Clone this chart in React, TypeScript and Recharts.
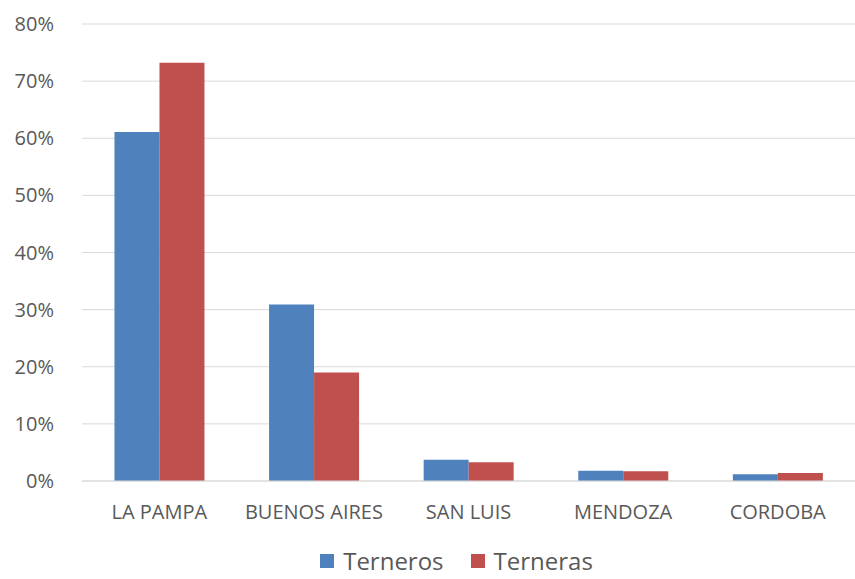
import React from "react";
import { BarChart, Bar, XAxis, YAxis, CartesianGrid } from "recharts";

const provinces = ["LA PAMPA", "BUENOS AIRES", "SAN LUIS", "MENDOZA", "CORDOBA"];
const terneros = [61.1, 30.9, 3.7, 1.8, 1.2];
const terneras = [73.2, 19.0, 3.3, 1.7, 1.4];
const yTicks = [0, 10, 20, 30, 40, 50, 60, 70, 80];
const seriesNames = ["Terneros", "Terneras"];
const seriesColors = ["#4f81bd", "#c0504d"];

const data = provinces.map((name, i) => ({ name, terneros: terneros[i], terneras: terneras[i] }));

const FONT = "'Open Sans', sans-serif";
const TEXT = "#595959";

// legend drawn as plain html under the chart, keeps the plot box fixed
function LegendBox() {
  return (
    <div style={{ position: "absolute", left: 58, top: 549, width: 797, display: "flex", justifyContent: "center", alignItems: "center", gap: 27, fontFamily: FONT }}>
      {seriesNames.map((n, i) => (
        <span key={n} style={{ display: "flex", alignItems: "center", color: TEXT, fontSize: 24, lineHeight: "24px" }}>
          <span style={{ width: 14, height: 14, background: seriesColors[i], marginRight: 9, display: "inline-block" }} />
          {n}
        </span>
      ))}
    </div>
  );
}

export default function App() {
  return (
    <div style={{ position: "absolute", left: 0, top: 0, width: 855, height: 579, background: "#fff", fontFamily: FONT }}>
      <BarChart width={855} height={579} data={data}
        margin={{ top: 24, right: 0, bottom: 48, left: 0 }}
        barCategoryGap="21%" barGap={0}>
        <CartesianGrid stroke="#d9d9d9" vertical={false} />
        <XAxis dataKey="name" tickLine={false} axisLine={{ stroke: "#d9d9d9" }} height={50}
          tick={{ fill: TEXT, fontSize: 20, fontFamily: FONT }} tickMargin={18} />
        <YAxis width={82} domain={[0, 80]} ticks={yTicks} tickLine={false} axisLine={false}
          tickFormatter={(v: number) => `${v}%`} tickMargin={22}
          tick={{ fill: TEXT, fontSize: 20, fontFamily: FONT }} />
        <Bar dataKey="terneros" name={seriesNames[0]} fill={seriesColors[0]} isAnimationActive={false} />
        <Bar dataKey="terneras" name={seriesNames[1]} fill={seriesColors[1]} isAnimationActive={false} />
      </BarChart>
      <LegendBox />
    </div>
  );
}
